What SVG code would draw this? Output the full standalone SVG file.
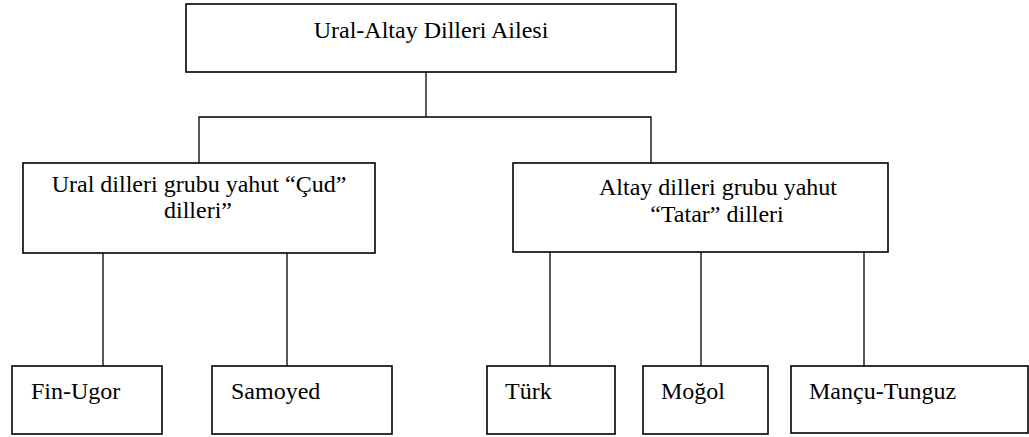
<svg xmlns="http://www.w3.org/2000/svg" width="1029" height="437" viewBox="0 0 1029 437">
<style>
.box{fill:#fff;stroke:#000;stroke-width:1.6}
.ln{stroke:#000;stroke-width:1.3;fill:none}
</style>
<rect width="1029" height="437" fill="#fff"/>
<g id="connectors">
<line class="ln" x1="426" y1="72" x2="426" y2="117"/>
<polyline class="ln" points="199,163 199,117 651,117 651,163"/>
<line class="ln" x1="103" y1="253" x2="103" y2="366"/>
<line class="ln" x1="287" y1="253" x2="287" y2="366"/>
<line class="ln" x1="550" y1="252" x2="550" y2="366"/>
<line class="ln" x1="701" y1="252" x2="701" y2="366"/>
<line class="ln" x1="864" y1="252" x2="864" y2="366"/>
</g>
<g id="root">
<rect class="box" x="186" y="4" width="490" height="68"/>
<text x="431" y="38" font-size="24" font-family="Liberation Serif, serif" text-anchor="middle">Ural-Altay Dilleri Ailesi</text>
</g>
<g id="ural">
<rect class="box" x="23" y="163" width="352" height="90"/>
<text x="199" y="192" font-size="24" font-family="Liberation Serif, serif" text-anchor="middle">Ural dilleri grubu yahut “Çud”</text>
<text x="198" y="218" font-size="24" font-family="Liberation Serif, serif" text-anchor="middle">dilleri”</text>
</g>
<g id="altay">
<rect class="box" x="513" y="163" width="375" height="89"/>
<text x="718" y="195" font-size="24" font-family="Liberation Serif, serif" text-anchor="middle">Altay dilleri grubu yahut</text>
<text x="717" y="222" font-size="24" font-family="Liberation Serif, serif" text-anchor="middle">“Tatar” dilleri</text>
</g>
<g id="finugor">
<rect class="box" x="12" y="366" width="150" height="68"/>
<text x="31" y="399" font-size="24" font-family="Liberation Serif, serif">Fin-Ugor</text>
</g>
<g id="samoyed">
<rect class="box" x="212" y="366" width="180" height="68"/>
<text x="231" y="399" font-size="24" font-family="Liberation Serif, serif">Samoyed</text>
</g>
<g id="turk">
<rect class="box" x="487" y="366" width="128" height="68"/>
<text x="505" y="399" font-size="24" font-family="Liberation Serif, serif">Türk</text>
</g>
<g id="mogol">
<rect class="box" x="643" y="366" width="125" height="68"/>
<text x="661" y="399" font-size="24" font-family="Liberation Serif, serif">Moğol</text>
</g>
<g id="mancu">
<rect class="box" x="791" y="366" width="237" height="67"/>
<text x="809" y="399" font-size="24" font-family="Liberation Serif, serif">Mançu-Tunguz</text>
</g>
</svg>
